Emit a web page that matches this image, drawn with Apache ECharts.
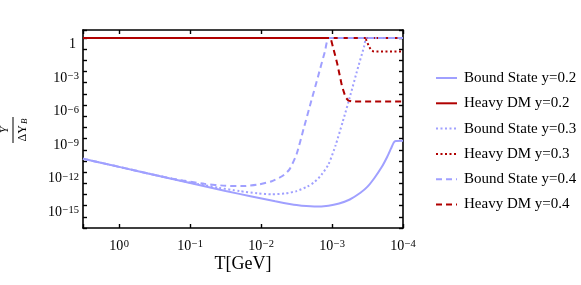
<!DOCTYPE html>
<html><head><meta charset="utf-8">
<script src="https://cdn.jsdelivr.net/npm/echarts@6/dist/echarts.min.js"></script>
<style>html,body{margin:0;padding:0;background:#fff}#c{width:581px;height:285px}</style>
</head><body><div id="c"></div>
<script>
// All values are decimal exponents:
// x = log10(T / GeV), y = log10(Y / ΔY_B)
const xTickExps = [0, -1, -2, -3, -4];
const yTickExps = [0, -3, -6, -9, -12, -15];

const bs02LogT = [0.51, 0, -0.5, -1.0, -1.5, -1.85, -2.2, -2.5, -2.75, -2.95, -3.1, -3.25, -3.4, -3.5, -3.6, -3.7, -3.78, -3.83, -3.87, -3.9, -4.0];
const bs02LogY = [-10.8, -11.53, -12.25, -12.97, -13.69, -14.15, -14.6, -14.95, -15.08, -15.0, -14.8, -14.45, -13.85, -13.3, -12.5, -11.55, -10.6, -9.9, -9.35, -9.22, -9.2];

const hd02LogT = [0.51, -4.0];
const hd02LogY = [0, 0];

const bs03LogT = [0.51, 0, -0.5, -0.75, -1.1, -1.4, -1.7, -1.95, -2.15, -2.35, -2.5, -2.65, -2.75, -2.85, -2.95, -3.05, -3.15, -3.25, -3.35, -3.45, -3.49, -4.0];
const bs03LogY = [-10.8, -11.53, -12.25, -12.61, -13.05, -13.4, -13.7, -13.9, -13.98, -13.9, -13.7, -13.3, -12.9, -12.25, -11.3, -9.6, -7.5, -5.3, -3.0, -0.8, 0, 0];

const hd03LogT = [0.51, -3.47, -3.52, -3.55, -3.58, -3.62, -4.0];
const hd03LogY = [0, 0, -0.75, -1.08, -1.19, -1.21, -1.21];

const bs04LogT = [0.51, 0, -0.6, -0.9, -1.2, -1.5, -1.75, -1.95, -2.15, -2.3, -2.4, -2.5, -2.6, -2.7, -2.8, -2.9, -2.96, -4.0];
const bs04LogY = [-10.8, -11.53, -12.4, -12.75, -13.05, -13.22, -13.25, -13.12, -12.82, -12.35, -11.75, -10.4, -8.1, -5.8, -3.5, -1.2, 0, 0];

const hd04LogT = [0.51, -2.98, -3.07, -3.14, -3.19, -3.23, -3.28, -4.0];
const hd04LogY = [0, 0, -2.2, -4.3, -5.3, -5.6, -5.68, -5.68];

const BLUE = '#a0a0ff', RED = '#b00000';
const FONT = 'Liberation Serif';

function pairs(xs, ys) { return xs.map((x, i) => [x, ys[i]]); }
function mk(name, xs, ys, color, dash, smooth) {
  return {
    name, type: 'line', data: pairs(xs, ys), symbol: 'none', showSymbol: false,
    smooth: smooth ? 0.2 : false,
    lineStyle: { color, width: 2, type: dash, cap: 'butt' }, itemStyle: { color },
    emphasis: { disabled: true }, animation: false
  };
}
function supLabel(e, isY) {
  if (isY && e === 0) return '{b|1}{s| }';
  const txt = e < 0 ? '\u2212' + (-e) : String(e);
  return '{b|10}{s|' + txt + '}';
}
const rich = {
  b: { fontFamily: FONT, fontSize: 14, lineHeight: 14, verticalAlign: 'bottom', color: '#000' },
  s: { fontFamily: FONT, fontSize: 10.5, lineHeight: 10, verticalAlign: 'top', padding: [0, 0, 11, 0.5], color: '#000' }
};
const frameLine = { show: true, onZero: false, lineStyle: { color: '#000', width: 1.6 } };
const tick = { show: true, inside: true, length: 4, lineStyle: { color: '#000', width: 1.4 } };

const X = { type: 'value', min: -4, max: 0.51, interval: 1, inverse: true };
const Y = { type: 'value', min: -17, max: 0.72, interval: 1 };

const chart = echarts.init(document.getElementById('c'), null, { renderer: 'canvas' });
chart.setOption({
  animation: false,
  backgroundColor: '#fff',
  grid: { left: 83, right: 178, top: 30, bottom: 57, containLabel: false, outerBoundsMode: 'none' },
  xAxis: [
    Object.assign({}, X, {
      position: 'bottom', axisLine: frameLine, axisTick: tick, splitLine: { show: false },
      axisLabel: {
        margin: 11, rich, showMinLabel: true, showMaxLabel: true, hideOverlap: false,
        formatter: v => { const e = Math.round(v); return (Math.abs(v - e) < 1e-9 && xTickExps.includes(e)) ? supLabel(e, false) : ''; }
      },
      name: 'T[GeV]', nameLocation: 'middle', nameGap: 27, nameMoveOverlap: false,
      nameTextStyle: { fontFamily: FONT, fontSize: 18, color: '#000' }
    }),
    Object.assign({}, X, { position: 'top', axisLine: frameLine, axisTick: tick, axisLabel: { show: false }, splitLine: { show: false } })
  ],
  yAxis: [
    Object.assign({}, Y, {
      position: 'left', axisLine: frameLine, axisTick: tick, splitLine: { show: false },
      axisLabel: {
        margin: 4, rich, padding: [13, 0, 0, 0], showMinLabel: true, showMaxLabel: true, hideOverlap: false,
        formatter: v => { const e = Math.round(v); return (Math.abs(v - e) < 1e-9 && yTickExps.includes(e)) ? supLabel(e, true) : ''; }
      }
    }),
    Object.assign({}, Y, { position: 'right', axisLine: frameLine, axisTick: tick, axisLabel: { show: false }, splitLine: { show: false } })
  ],
  legend: {
    orient: 'vertical', left: 435, top: 70, padding: 0,
    itemWidth: 21, itemHeight: 16, itemGap: 9.3,
    itemStyle: { opacity: 0 },
    textStyle: { fontFamily: FONT, fontSize: 15, lineHeight: 16, color: '#000', padding: [0, 0, 0, 2] },
    selectedMode: false
  },
  graphic: [{
    type: 'group', x: 13, y: 130, rotation: Math.PI / 2,
    children: [
      { type: 'text', x: 0, y: -8, style: { text: 'Y', fontFamily: FONT, fontStyle: 'italic', fontSize: 12, align: 'center', verticalAlign: 'middle', fill: '#000' } },
      { type: 'line', shape: { x1: -13, y1: 0, x2: 13, y2: 0 }, style: { stroke: '#000', lineWidth: 1 } },
      { type: 'text', x: 0, y: 10, style: {
          text: '{a|ΔY}{c|B}', align: 'center', verticalAlign: 'middle',
          rich: {
            a: { fontFamily: FONT, fontSize: 12, lineHeight: 12, verticalAlign: 'top', color: '#000' },
            c: { fontFamily: FONT, fontStyle: 'italic', fontSize: 9, lineHeight: 9, verticalAlign: 'bottom', padding: [6, 0, 0, 1], color: '#000' }
          }
      } }
    ]
  }],
  series: [
    mk('Bound State y=0.2', bs02LogT, bs02LogY, BLUE, 'solid', true),
    mk('Heavy DM y=0.2', hd02LogT, hd02LogY, RED, 'solid', false),
    mk('Bound State y=0.3', bs03LogT, bs03LogY, BLUE, [2, 2.5], true),
    mk('Heavy DM y=0.3', hd03LogT, hd03LogY, RED, [2, 2.5], false),
    mk('Bound State y=0.4', bs04LogT, bs04LogY, BLUE, [6, 4], true),
    mk('Heavy DM y=0.4', hd04LogT, hd04LogY, RED, [6, 4], false)
  ]
});
</script></body></html>
